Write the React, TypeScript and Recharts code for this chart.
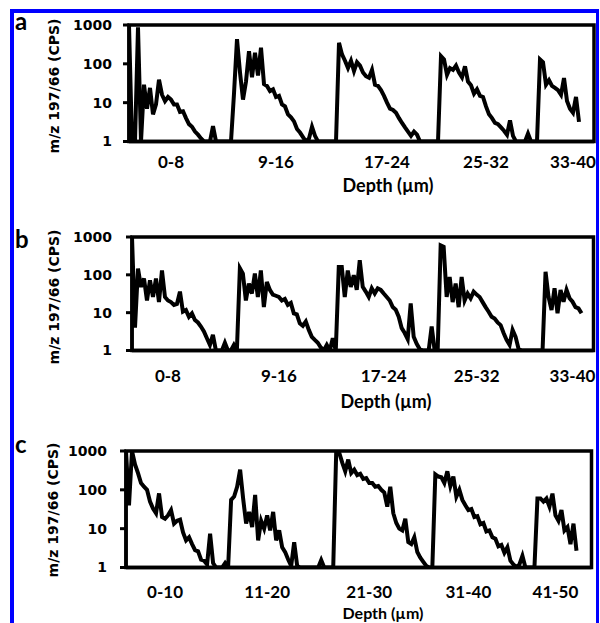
import React from "react";
import { LineChart, Line, XAxis, YAxis, ReferenceArea } from "recharts";

// m/z 197/66 counts (CPS), one reading per depth step, per layer block
const a1 = [1000, 1, 1, 870, 1, 29, 7, 24, 5, 9, 39, 16, 11, 14, 12, 9, 9, 5.8, 6, 4, 2.8, 2.4, 1.8, 1.5, 1.2, 1, 1, 1, 2.5, 1, 1, 1, 1, 1, 1];
const a2 = [17, 430, 60, 12, 35, 210, 45, 194, 50, 260, 30, 27, 20, 22, 14, 15, 9, 8, 5, 4.2, 3.3, 2.1, 1.7, 1.3, 1, 1.2, 2.4, 1.4, 1, 1, 1, 1, 1, 1, 1];
const a3 = [350, 175, 120, 78, 120, 65, 110, 90, 60, 48, 44, 70, 29, 27, 21, 15, 10, 7, 6.5, 5.5, 4, 3, 2.3, 1.8, 1.4, 1.8, 1.5, 1, 1, 1, 1, 1, 1, 1];
const a4 = [158, 130, 52, 78, 70, 90, 60, 45, 86, 35, 28, 17, 22, 15, 14, 8, 5, 4, 3, 2.8, 2.3, 1.9, 1.5, 3.5, 1.4, 1, 1, 1, 1, 1.6, 1, 1, 1];
const a5 = [130, 110, 29, 38, 27, 24, 21, 16, 43, 11, 7, 5.5, 14, 3.2];

const b1 = [1000, 4, 147, 48, 80, 21, 72, 26, 80, 19, 130, 26, 21, 19, 16, 17, 36, 10.6, 11.7, 7.8, 9.6, 6.4, 5.5, 4.3, 3.2, 2.1, 1.4, 2.6, 1, 1, 1, 1.6, 1, 1, 1.4, 1];
const b2 = [150, 108, 21, 59, 32, 108, 26, 130, 14, 65, 40, 30, 28, 26, 21, 23, 16, 18, 9.6, 9, 5.2, 4.5, 5.8, 3.5, 2.3, 1.9, 1.6, 1.2, 1, 1.4, 1, 2.1, 1];
const b3 = [160, 160, 26, 130, 48, 98, 40, 245, 48, 36, 26, 44, 32, 44, 40, 32, 26, 21, 14, 12, 7.8, 3.9, 2.9, 2, 17.6, 2.3, 1.5, 1.1, 1, 1, 1, 4.3, 1, 1];
const b4 = [600, 550, 26, 88, 19, 59, 14, 88, 21, 32, 24, 36, 30, 26, 19, 14, 10.6, 7.8, 7, 5.5, 4.7, 2.9, 1.9, 1.4, 3.5, 2.3, 1.1, 1, 1, 1, 1, 1, 1, 1];
const b5 = [1, 120, 26, 11.7, 44, 9.6, 40, 19.5, 40, 24, 19.5, 14, 13, 9.6];

const c1 = [1000, 40, 1000, 450, 270, 150, 120, 100, 50, 33, 25, 81, 20, 18, 22, 30, 13.5, 16, 17, 8, 5, 6, 4, 2.8, 2.6, 1.6, 1.5, 1.2, 7.4, 1.3, 1, 1, 1, 1.3, 1];
const c2 = [55, 67, 120, 330, 60, 13.5, 27, 11, 74, 5, 16, 10, 22, 9, 27, 5, 9, 3.3, 2.5, 1.6, 1.1, 4.5, 1.1, 1, 1, 1, 1, 1, 1, 1, 1.55, 1, 1, 1, 1];
const c3 = [1000, 900, 500, 300, 600, 270, 330, 240, 260, 190, 200, 150, 150, 120, 125, 100, 85, 37, 120, 25, 14, 10, 9, 18, 4.5, 4, 6, 2.5, 1.8, 1.4, 1.1, 1, 1];
const c4 = [250, 220, 210, 150, 300, 125, 220, 67, 100, 55, 40, 30, 32, 20, 21, 13, 14, 8.5, 9, 6, 5.5, 3.5, 3.8, 2.4, 3.3, 1.5, 1.2, 1, 1.2, 2, 1, 1, 1, 1];
const c5 = [60, 60, 50, 60, 37, 80, 22, 16, 30, 9, 11, 4, 13.5, 2.7];

const depthLabelsAB = ["0-8", "9-16", "17-24", "25-32", "33-40"];
const depthLabelsC = ["0-10", "11-20", "21-30", "31-40", "41-50"];
const labelPosA = [14, 49, 86, 119, 148];
const labelPosB = [12, 49, 84, 115, 147];
const labelPosC = [13, 47, 81, 114, 143];
const yTicks = [1, 10, 100, 1000];

const toPoints = (blocks: number[][]) =>
  blocks.flat().map((cps, i) => ({ i, cps }));

interface PanelProps {
  data: { i: number; cps: number }[];
  labelPos: number[];
  labels: string[];
  plotTop: number;
  plotHeight: number;
  plotLeft: number;
  plotRight: number;
  xMax: number;
  xTickGap: number;
  yTickGap: number;
}

const Panel = ({
  data,
  labelPos,
  labels,
  plotTop,
  plotHeight,
  plotLeft,
  plotRight,
  xMax,
  xTickGap,
  yTickGap,
}: PanelProps) => {
  const pad = 12;
  return (
    <div style={{ position: "absolute", left: 0, top: plotTop - pad }}>
      <LineChart
        width={600}
        height={pad + plotHeight + 40}
        data={data}
        margin={{ top: pad, right: 600 - plotRight, bottom: 0, left: 0 }}
      >
        <XAxis
          dataKey="i"
          type="number"
          domain={[0, xMax]}
          allowDataOverflow
          ticks={labelPos}
          interval={0}
          tickFormatter={(v) => labels[labelPos.indexOf(v)]}
          tickLine={false}
          tickSize={0}
          tickMargin={xTickGap}
          height={40}
          axisLine={{ stroke: "#000", strokeWidth: 3.5 }}
          tick={{ fill: "#000", fontSize: 17, fontWeight: 700, fontFamily: "Lato" }}
        />
        <YAxis
          type="number"
          scale="log"
          domain={[1, 1000]}
          allowDataOverflow
          ticks={yTicks}
          interval={0}
          width={plotLeft}
          tickSize={6}
          tickMargin={yTickGap}
          tickLine={{ stroke: "#000", strokeWidth: 3 }}
          axisLine={{ stroke: "#000", strokeWidth: 3.5 }}
          tick={{ fill: "#000", fontSize: 14, fontWeight: 700, fontFamily: "DejaVu Sans" }}
        />
        <ReferenceArea
          x1={0}
          x2={xMax}
          y1={1}
          y2={1000}
          fill="none"
          stroke="#000"
          strokeWidth={3.5}
        />
        <Line
          dataKey="cps"
          type="linear"
          stroke="#000"
          strokeWidth={4}
          dot={false}
          isAnimationActive={false}
        />
      </LineChart>
    </div>
  );
};

const letterStyle = { fontFamily: "Lato", fontWeight: 700, fontSize: 24, fill: "#000" };
const yTitleStyle = { fontFamily: "DejaVu Sans", fontWeight: 700, fontSize: 14, fill: "#000" };
const xTitleStyle = { fontFamily: "Lato", fontWeight: 700, fontSize: 18, fill: "#000" };

export default function App() {
  return (
    <div
      style={{
        position: "absolute",
        left: 0,
        top: 0,
        width: 600,
        height: 623,
        overflow: "hidden",
        background: "#fff",
      }}
    >
      <div
        style={{
          position: "absolute",
          left: 10,
          top: 9,
          width: 589,
          height: 700,
          boxSizing: "border-box",
          borderTop: "4px solid #0000ff",
          borderLeft: "4px solid #0000ff",
          borderRight: "3px solid #0000ff",
        }}
      />
      <Panel
        data={toPoints([a1, a2, a3, a4, a5])}
        labelPos={labelPosA}
        labels={depthLabelsAB}
        plotTop={24.5}
        plotHeight={116.5}
        plotLeft={129}
        plotRight={594}
        xMax={155}
        xTickGap={14}
        yTickGap={11}
      />
      <Panel
        data={toPoints([b1, b2, b3, b4, b5])}
        labelPos={labelPosB}
        labels={depthLabelsAB}
        plotTop={237}
        plotHeight={113.5}
        plotLeft={132}
        plotRight={593.5}
        xMax={154}
        xTickGap={19}
        yTickGap={14}
      />
      <Panel
        data={toPoints([c1, c2, c3, c4, c5])}
        labelPos={labelPosC}
        labels={depthLabelsC}
        plotTop={450.5}
        plotHeight={116.5}
        plotLeft={126}
        plotRight={591.5}
        xMax={155}
        xTickGap={18}
        yTickGap={13}
      />
      <svg
        width={600}
        height={623}
        style={{ position: "absolute", left: 0, top: 0, pointerEvents: "none" }}
      >
        <text x={15} y={30} style={letterStyle}>a</text>
        <text x={15} y={248} style={letterStyle}>b</text>
        <text x={15} y={453} style={letterStyle}>c</text>
        <text x={54} y={86} textAnchor="middle" dominantBaseline="central" transform="rotate(-90 54 86)" style={yTitleStyle}>
          m/z 197/66 (CPS)
        </text>
        <text x={54} y={297} textAnchor="middle" dominantBaseline="central" transform="rotate(-90 54 297)" style={yTitleStyle}>
          m/z 197/66 (CPS)
        </text>
        <text x={53} y={510} textAnchor="middle" dominantBaseline="central" transform="rotate(-90 53 510)" style={yTitleStyle}>
          m/z 197/66 (CPS)
        </text>
        <text x={388} y={192} textAnchor="middle" style={xTitleStyle}>Depth (µm)</text>
        <text x={386} y={408} textAnchor="middle" style={xTitleStyle}>Depth (µm)</text>
        <text x={383} y={619} textAnchor="middle" style={{ ...xTitleStyle, fontSize: 16 }}>Depth (µm)</text>
      </svg>
    </div>
  );
}
